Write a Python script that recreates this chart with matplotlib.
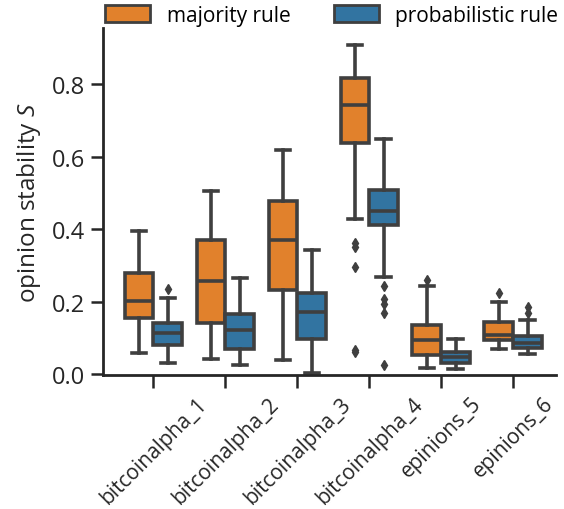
import matplotlib
matplotlib.use("Agg")
import matplotlib.pyplot as plt
from matplotlib.patches import Patch

categories = ["bitcoinalpha_1", "bitcoinalpha_2", "bitcoinalpha_3",
              "bitcoinalpha_4", "epinions_5", "epinions_6"]
rules = ["majority rule", "probabilistic rule"]

# majority rule
maj_whislo = [0.057, 0.041, 0.039, 0.428, 0.018, 0.069]
maj_q1     = [0.156, 0.141, 0.231, 0.637, 0.052, 0.095]
maj_med    = [0.202, 0.257, 0.371, 0.742, 0.093, 0.107]
maj_q3     = [0.280, 0.370, 0.479, 0.818, 0.135, 0.145]
maj_whishi = [0.395, 0.506, 0.619, 0.908, 0.242, 0.200]
maj_fliers = [[], [], [], [0.363, 0.350, 0.297, 0.068, 0.062], [0.261], [0.223]]

# probabilistic rule
pro_whislo = [0.031, 0.025, 0.003, 0.267, 0.013, 0.056]
pro_q1     = [0.081, 0.069, 0.098, 0.411, 0.031, 0.071]
pro_med    = [0.114, 0.121, 0.172, 0.450, 0.047, 0.087]
pro_q3     = [0.141, 0.166, 0.225, 0.508, 0.062, 0.106]
pro_whishi = [0.210, 0.265, 0.342, 0.648, 0.098, 0.149]
pro_fliers = [[0.234], [], [], [0.242, 0.207, 0.193, 0.170, 0.025], [], [0.184, 0.168]]

colors = ["#e1812c", "#3274a1"]
edge = "#3f3f3f"
text_col = "#262626"

plt.rcParams['font.family'] = ['Open Sans', 'DejaVu Sans']
plt.rcParams['mathtext.fontset'] = 'custom'
plt.rcParams['mathtext.it'] = 'Open Sans:italic'
fig = plt.figure(figsize=(5.64, 5.10), dpi=100)
ax = fig.add_axes([0.1826, 0.263, 0.804, 0.68])

def stats(wl, q1, med, q3, wh, fl):
    return [dict(whislo=a, q1=b, med=c, q3=d, whishi=e, fliers=f)
            for a, b, c, d, e, f in zip(wl, q1, med, q3, wh, fl)]

groups = [stats(maj_whislo, maj_q1, maj_med, maj_q3, maj_whishi, maj_fliers),
          stats(pro_whislo, pro_q1, pro_med, pro_q3, pro_whishi, pro_fliers)]
offsets = [-0.2, 0.2]
lw = 2.6
for st, off, col in zip(groups, offsets, colors):
    pos = [i + off for i in range(len(categories))]
    ax.bxp(st, positions=pos, widths=0.4, patch_artist=True,
           boxprops=dict(facecolor=col, edgecolor=edge, linewidth=lw),
           medianprops=dict(color=edge, linewidth=lw),
           whiskerprops=dict(color=edge, linewidth=lw),
           capprops=dict(color=edge, linewidth=lw),
           flierprops=dict(marker='d', markerfacecolor=edge, markeredgecolor=edge,
                           markersize=5.5),
           capwidths=0.2, manage_ticks=False)

ax.set_xlim(-0.7, 5.6)
ax.set_ylim(-0.002, 0.955)
ax.set_xticks(range(len(categories)))
ax.set_xticklabels(categories, rotation=45, ha='center', fontsize=15, color=text_col)
ax.set_yticks([0.0, 0.2, 0.4, 0.6, 0.8])
ax.set_yticklabels(["0.0", "0.2", "0.4", "0.6", "0.8"], fontsize=17, color=text_col)
ax.set_ylabel("opinion stability $S$", fontsize=17.5, color=text_col, labelpad=6)
for s in ['top', 'right']:
    ax.spines[s].set_visible(False)
for s in ['left', 'bottom']:
    ax.spines[s].set_linewidth(2.0)
    ax.spines[s].set_color(text_col)
ax.tick_params(axis='both', length=9, width=1.8, color=text_col, pad=4)

handles = [Patch(facecolor=c, edgecolor=edge, linewidth=2) for c in colors]
fig.legend(handles, rules, loc='center', bbox_to_anchor=(0.588, 0.968), ncol=2,
           frameon=False, fontsize=15, handlelength=2.16, handleheight=0.82,
           columnspacing=2.07, handletextpad=0.8, borderpad=0.1)

fig.savefig("out.png", dpi=100)
